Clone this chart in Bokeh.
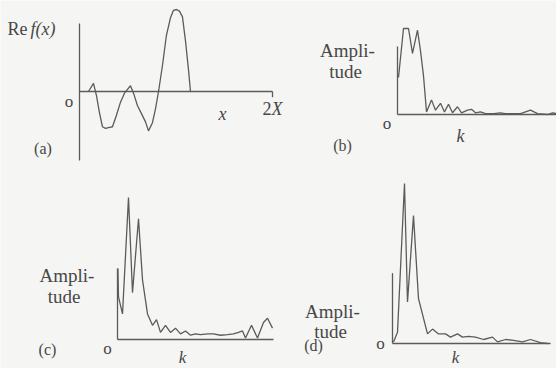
from bokeh.plotting import figure
from bokeh.models import Range1d
from bokeh.core.properties import value
from bokeh.embed import file_html
from bokeh.resources import INLINE

# ---------------- data ----------------
# (a) Re f(x), x in units of X (axis runs 0..2X)
a_x = [0.093, 0.145, 0.176, 0.207, 0.238, 0.269, 0.30, 0.342, 0.383, 0.425, 0.466,
       0.528, 0.56, 0.60, 0.642, 0.684, 0.715, 0.756, 0.788, 0.819, 0.86, 0.90,
       0.943, 0.974, 1.005, 1.036, 1.067, 1.098, 1.13, 1.15]
a_y = [0.0, 0.10, -0.05, -0.26, -0.43, -0.45, -0.44, -0.43, -0.29, -0.13, -0.02,
       0.07, -0.02, -0.17, -0.27, -0.37, -0.48, -0.38, -0.21, 0.0, 0.32, 0.68,
       0.90, 0.99, 1.0, 0.98, 0.91, 0.62, 0.26, 0.0]

# (b) amplitude spectrum
b_k = [0.25, 1.5, 2.75, 3.75, 5.0, 5.75, 6.5, 7.25, 8.5, 9.5, 10.75, 11.75, 12.75,
       13.75, 15, 16, 17.5, 18.5, 19.5, 20.75, 22, 24, 25.75, 27, 29, 30.75, 33.25,
       35, 37.5, 38.75, 39.75]
b_amp = [0.43, 1.0, 1.0, 0.71, 0.98, 0.74, 0.45, 0.03, 0.17, 0.05, 0.13, 0.03, 0.12,
         0.02, 0.09, 0.02, 0.05, 0.06, 0.02, 0.03, 0.01, 0.01, 0.02, 0.01, 0.01, 0.01,
         0.05, 0.01, 0.0, 0.02, 0.01]

# (c) amplitude spectrum
c_k = [0.1, 0.25, 1.25, 2.75, 3.75, 5.25, 6.25, 7.5, 8.75, 9.75, 10.75, 12, 13.25,
       14.5, 15.75, 17, 18.25, 19.5, 20.75, 22.5, 24, 25.75, 27.5, 29, 30.25, 31.25,
       32, 33.5, 35, 36.5, 37.5, 38.75]
c_amp = [0.50, 0.30, 0.18, 1.0, 0.33, 0.85, 0.42, 0.18, 0.10, 0.14, 0.05, 0.10, 0.05,
         0.08, 0.04, 0.06, 0.03, 0.04, 0.035, 0.04, 0.04, 0.03, 0.035, 0.04, 0.05,
         0.06, 0.01, 0.10, 0.01, 0.12, 0.15, 0.08]

# (d) amplitude spectrum
d_k = [0.25, 1.25, 3, 3.75, 5.25, 6.5, 8.75, 10, 11.5, 13.25, 14.5, 16.25, 17.5, 19,
       20.75, 22.75, 25, 26.25, 28.25, 30.25, 32.5, 34.5, 37, 38.75]
d_amp = [0.01, 0.07, 1.0, 0.26, 0.80, 0.28, 0.06, 0.09, 0.06, 0.06, 0.04, 0.06, 0.04,
         0.045, 0.04, 0.025, 0.04, 0.01, 0.025, 0.02, 0.01, 0.025, 0.006, 0.0]

# axis extents per panel: (x_end, y_bottom, y_top)
a_axis = (2.0, -0.84, 0.83)
b_axis = (39.75, 0.0, 0.79)
c_axis = (39.0, 0.0, 0.50)
d_axis = (39.5, 0.0, 0.44)

# ---------------- layout ----------------
W, H = 556, 368
OFF = 0
INK = "#5b5b5b"
TXT = "#474747"
FONT = value("Liberation Serif")

p = figure(width=W, height=H, output_backend="svg", toolbar_location=None,
           x_range=Range1d(OFF, OFF + W), y_range=Range1d(OFF + H, OFF),
           min_border=0, background_fill_color="#f5f5f3", border_fill_color="#f5f5f3")
p.axis.visible = False
p.grid.visible = False
p.outline_line_color = None


def add_panel(name, x0_px, sx, y0_px, sy):
    cx = x0_px - OFF
    xs = -cx / sx
    cy = (OFF + H) - y0_px
    ys = -cy / sy
    p.extra_x_ranges[name] = Range1d(xs, xs + W / sx)
    p.extra_y_ranges[name] = Range1d(ys, ys + H / sy)


add_panel("a", 79, 96.5, 91, 82)
add_panel("b", 397, 4, 114, 86)
add_panel("c", 117, 4, 339, 142)
add_panel("d", 392, 4, 343, 160)

lw = 1.3
for name, xs, ys, ax in [("a", a_x, a_y, a_axis), ("b", b_k, b_amp, b_axis),
                         ("c", c_k, c_amp, c_axis), ("d", d_k, d_amp, d_axis)]:
    kw = dict(x_range_name=name, y_range_name=name, line_color=INK, line_width=lw)
    p.line([0, ax[0]], [0, 0], **kw)
    p.line([0, 0], [ax[1], ax[2]], **kw)
    p.line(xs, ys, **kw)

# end tick at 2X in panel (a)
p.line([a_axis[0], a_axis[0]], [0, -0.07], x_range_name="a", y_range_name="a",
       line_color=INK, line_width=lw)

# ---------------- texts ----------------
DY = -5  # renderer baseline correction


def txt(x, y, s, size, align="left", italic=False):
    p.text(x=[x], y=[y + DY], text=[s], text_font=FONT, text_font_size=size,
           text_align=align, text_baseline="alphabetic", text_color=TXT,
           text_font_style="italic" if italic else "normal")

# panel (a)
txt(7, 33, "Re", "18px")
txt(30, 33, "f(x)", "18px", italic=True)
txt(68.5, 106, "o", "17px", "center")
txt(262, 113, "2", "18px")
txt(271, 113, "X", "18px", italic=True)
txt(222, 118, "x", "18px", "center", italic=True)
txt(42.5, 153, "(a)", "16px", "center")

# panel (b)
txt(347, 55, "Ampli-", "19px", "center")
txt(345, 76, "tude", "19px", "center")
txt(386.5, 128, "o", "17px", "center")
txt(460, 140, "k", "18px", "center", italic=True)
txt(342, 150, "(b)", "16px", "center")

# panel (c)
txt(66.5, 280, "Ampli-", "19px", "center")
txt(63.5, 301, "tude", "19px", "center")
txt(107, 353, "o", "17px", "center")
txt(182, 362, "k", "17px", "center", italic=True)
txt(47, 354, "(c)", "16px", "center")

# panel (d)
txt(332, 316, "Ampli-", "19px", "center")
txt(330, 336, "tude", "19px", "center")
txt(380, 348, "o", "17px", "center")
txt(455, 362, "k", "17px", "center", italic=True)
txt(313, 350, "(d)", "16px", "center")

open("out.html", "w").write(file_html(p, INLINE))
